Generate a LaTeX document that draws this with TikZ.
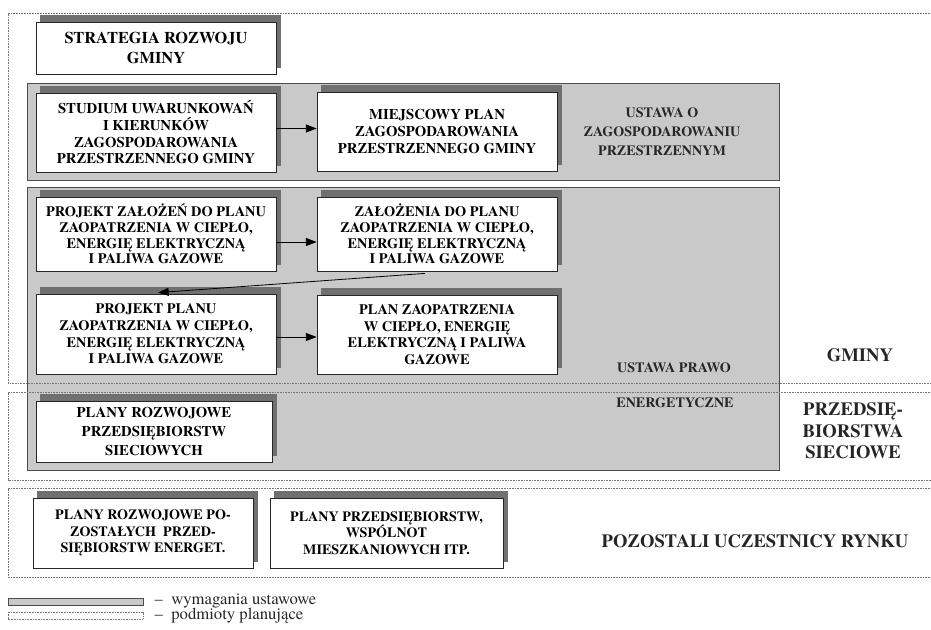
\documentclass[tikz,border=0pt]{standalone}
\usepackage{fontspec}
\setmainfont{texgyretermes}[Extension=.otf, UprightFont=*-regular, BoldFont=*-bold, ItalicFont=*-italic, BoldItalicFont=*-bolditalic]
\usetikzlibrary{arrows.meta,shadows,calc}
\definecolor{regfill}{RGB}{201,201,201}
\definecolor{shade}{RGB}{112,112,112}
\definecolor{dotc}{RGB}{120,120,120}
\begin{document}
\begin{tikzpicture}[x=0.75pt,y=-0.75pt,
  wbox/.style={draw=black!85, line width=0.6pt, fill=white, align=center, inner sep=0pt,
    font=\bfseries\fontsize{11.1}{12.5}\selectfont,
    general shadow={fill=shade, draw=shade, shadow xshift=3pt, shadow yshift=5pt}},
  region/.style={fill=regfill, draw=black!70, line width=0.6pt},
  plan/.style={draw=dotc, line width=0.6pt, dash pattern=on 0.7pt off 0.5pt},
  arr/.style={-{Triangle[length=8pt,width=6pt]}, line width=0.6pt, black},
  side/.style={font=\bfseries\fontsize{14}{16}\selectfont, align=center, text=black!85},
  law/.style={font=\bfseries\fontsize{10.6}{14.2}\selectfont, align=center, text=black!85},
  leg/.style={font=\fontsize{12.5}{13}\selectfont, anchor=west, text=black!85}
]
\useasboundingbox (0,0) rectangle (931,629);
% law regions
\path[region] (27,83) rectangle (779,180);
\path[region] (27,187) rectangle (779,470);
% planning subjects (dotted, open to the right)
\draw[plan] (940,13) -- (8,13) -- (8,383) -- (940,383);
\draw[plan] (940,392) -- (8,392) -- (8,480) -- (940,480);
\draw[plan] (940,488) -- (8,488) -- (8,577) -- (940,577);
% boxes
\node[wbox, minimum width=180pt, minimum height=39pt, font=\bfseries\fontsize{12.3}{15}\selectfont] (strat) at (156,48) {STRATEGIA ROZWOJU\\GMINY};
\node[wbox, minimum width=180pt, minimum height=59.25pt] (stud) at (156,132.5) {STUDIUM UWARUNKOWAŃ\\I KIERUNKÓW\\ZAGOSPODAROWANIA\\PRZESTRZENNEGO GMINY};
\node[wbox, minimum width=180pt, minimum height=59.25pt] (miej) at (437,131.5) {MIEJSCOWY PLAN\\ZAGOSPODAROWANIA\\PRZESTRZENNEGO GMINY};
\node[wbox, minimum width=180pt, minimum height=55.5pt, font=\bfseries\fontsize{10.8}{11.8}\selectfont] (projz) at (156,234) {PROJEKT ZAŁOŻEŃ DO PLANU\\ZAOPATRZENIA W CIEPŁO,\\ENERGIĘ ELEKTRYCZNĄ\\I PALIWA GAZOWE};
\node[wbox, minimum width=180pt, minimum height=55.5pt, font=\bfseries\fontsize{10.8}{11.8}\selectfont] (zal) at (437,234) {ZAŁOŻENIA DO PLANU\\ZAOPATRZENIA W CIEPŁO,\\ENERGIĘ ELEKTRYCZNĄ\\I PALIWA GAZOWE};
\node[wbox, minimum width=180pt, minimum height=60pt, font=\bfseries\fontsize{10.8}{12.5}\selectfont] (projp) at (156,334) {PROJEKT PLANU\\ZAOPATRZENIA W CIEPŁO,\\ENERGIĘ ELEKTRYCZNĄ\\I PALIWA GAZOWE};
\node[wbox, minimum width=180pt, minimum height=59.25pt, font=\bfseries\fontsize{10.8}{12.5}\selectfont] (planz) at (437,334.5) {PLAN ZAOPATRZENIA\\W CIEPŁO, ENERGIĘ\\ELEKTRYCZNĄ I PALIWA\\GAZOWE};
\node[wbox, minimum width=177pt, minimum height=45.75pt, font=\bfseries\fontsize{11.1}{13.9}\selectfont] (siec) at (154,431.5) {PLANY ROZWOJOWE\\PRZEDSIĘBIORSTW\\SIECIOWYCH};
\node[wbox, minimum width=165pt, minimum height=52.5pt, font=\bfseries\fontsize{10.6}{12.5}\selectfont] (pozost) at (143,533) {PLANY ROZWOJOWE PO-\\ZOSTAŁYCH~~PRZED-\\SIĘBIORSTW ENERGET.};
\node[wbox, minimum width=174.75pt, minimum height=52.5pt, font=\bfseries\fontsize{10.6}{12.5}\selectfont] (wspol) at (386.5,533) {PLANY PRZEDSIĘBIORSTW,\\WSPÓLNOT\\MIESZKANIOWYCH ITP.};
% arrows
\draw[arr] ($(stud.east)+(0,-4)$) -- ($(miej.west)+(0,-3)$);
\draw[arr] ($(projz.east)+(0,8)$) -- ($(zal.west)+(0,8)$);
\coordinate (zs) at ($(zal.south)+(-12,2)$);
\draw[arr] (zs) -- ($(projp.north)+(2,-1)$);
\draw[arr] ($(projp.east)+(0,3)$) -- ($(planz.west)+(0,2.5)$);
% law labels
\node[law] (l1) at (662,132) {USTAWA O\\ZAGOSPODAROWANIU\\PRZESTRZENNYM};
\node[law] (l2) at (674,368) {USTAWA PRAWO};
\node[law] (l3) at (675,403) {ENERGETYCZNE};
% side labels
\node[side] (s1) at (860,355) {GMINY};
\node[side] (s2) at (853,431) {PRZEDSIĘ-\\BIORSTWA\\SIECIOWE};
\node[side] (s3) at (755,541) {POZOSTALI UCZESTNICY RYNKU};
% legend
\path[region] (8,598) rectangle (143,605);
\draw[plan] (8,612) rectangle (143,619);
\node[leg] (t1) at (150,601) {–\ \ wymagania ustawowe};
\node[leg] (t2) at (150,616) {–\ \ podmioty planujące};
\end{tikzpicture}
\end{document}
